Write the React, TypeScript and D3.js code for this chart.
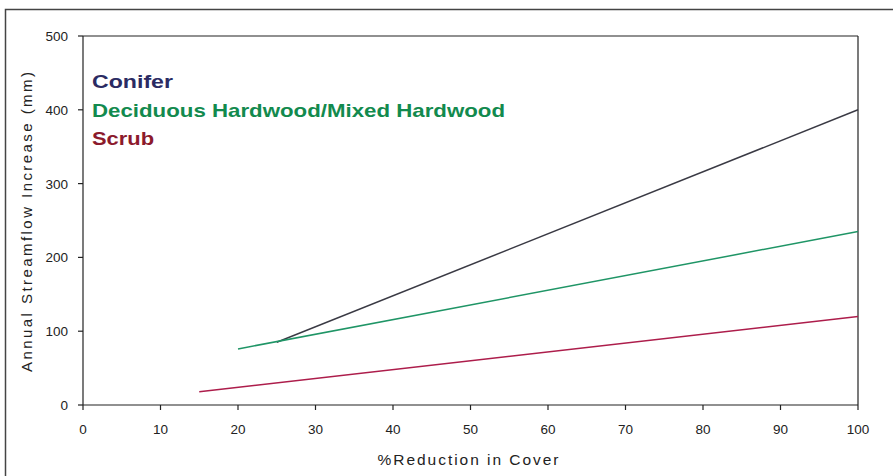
import React from "react";
import * as d3 from "d3";

const seriesNames = ["Conifer", "Deciduous Hardwood/Mixed Hardwood", "Scrub"];
const coniferX = [25, 100];
const coniferY = [85, 400];
const deciduousX = [20, 100];
const deciduousY = [76, 235];
const scrubX = [15, 100];
const scrubY = [18, 120];
const xTicks = [0, 10, 20, 30, 40, 50, 60, 70, 80, 90, 100];
const yTicks = [0, 100, 200, 300, 400, 500];
const xTitle = "%Reduction in Cover";
const yTitle = "Annual Streamflow Increase (mm)";

const W = 893, H = 476;
const m = { left: 83, right: 858, top: 36, bottom: 405 };

export default function App() {
  const x = d3.scaleLinear().domain([0, 100]).range([m.left, m.right]);
  const y = d3.scaleLinear().domain([0, 500]).range([m.bottom, m.top]);
  const line = d3.line<[number, number]>().x((d) => x(d[0])).y((d) => y(d[1]));
  const mk = (xs: number[], ys: number[]) => xs.map((v, i) => [v, ys[i]] as [number, number]);
  const series = [
    { name: seriesNames[0], pts: mk(coniferX, coniferY), stroke: "#3a3a44", text: "#2b2b63" },
    { name: seriesNames[1], pts: mk(deciduousX, deciduousY), stroke: "#1f9566", text: "#128a4e" },
    { name: seriesNames[2], pts: mk(scrubX, scrubY), stroke: "#ad1d4b", text: "#8c1a2c" },
  ];
  const font = "Liberation Sans, Arial, sans-serif";
  return (
    <svg width={W} height={H} style={{ position: "absolute", left: 0, top: 0, display: "block" }}>
      <rect x={0} y={0} width={W} height={H} fill="#fff" />
      <rect x={5.5} y={9.5} width={W + 10} height={H + 10} fill="none" stroke="#444" strokeWidth={1.5} />
      <line x1={m.left} x2={m.left} y1={m.top} y2={m.bottom} stroke="#222" strokeWidth={1.2} />
      <line x1={m.left} x2={m.right} y1={m.bottom} y2={m.bottom} stroke="#222" strokeWidth={1.2} />
      <line x1={m.left} x2={m.right} y1={m.top} y2={m.top} stroke="#222" strokeWidth={1.2} />
      <line x1={m.right} x2={m.right} y1={m.top} y2={m.bottom} stroke="#222" strokeWidth={1.2} />
      {yTicks.map((t) => (
        <g key={"y" + t}>
          <line x1={m.left - 5} x2={m.left} y1={y(t)} y2={y(t)} stroke="#222" strokeWidth={1.2} />
          <text x={m.left - 15} y={y(t) + 5} textAnchor="end" fontFamily={font} fontSize={13.5} fill="#222">{t}</text>
        </g>
      ))}
      {xTicks.map((t) => (
        <g key={"x" + t}>
          <line x1={x(t)} x2={x(t)} y1={m.bottom} y2={m.bottom + 5} stroke="#222" strokeWidth={1.2} />
          <text x={x(t)} y={434} textAnchor="middle" fontFamily={font} fontSize={13.5} fill="#222">{t}</text>
        </g>
      ))}
      <text x={468} y={465} textAnchor="middle" fontFamily={font} fontSize={15.5} fill="#222"
        textLength={181} lengthAdjust="spacing">{xTitle}</text>
      <text transform={`translate(32,222) rotate(-90)`} textAnchor="middle" fontFamily={font} fontSize={15} fill="#222"
        textLength={300} lengthAdjust="spacing">{yTitle}</text>
      {series.map((s) => (
        <path key={s.name} d={line(s.pts) || ""} fill="none" stroke={s.stroke} strokeWidth={1.5} />
      ))}
      {series.map((s, i) => (
        <text key={"l" + i} x={92} y={88 + i * 28.5} fontFamily={font} fontWeight="bold" fontSize={18.5} fill={s.text}
          textLength={i === 0 ? 81 : i === 1 ? 413 : 62} lengthAdjust="spacingAndGlyphs">{s.name}</text>
      ))}
    </svg>
  );
}
